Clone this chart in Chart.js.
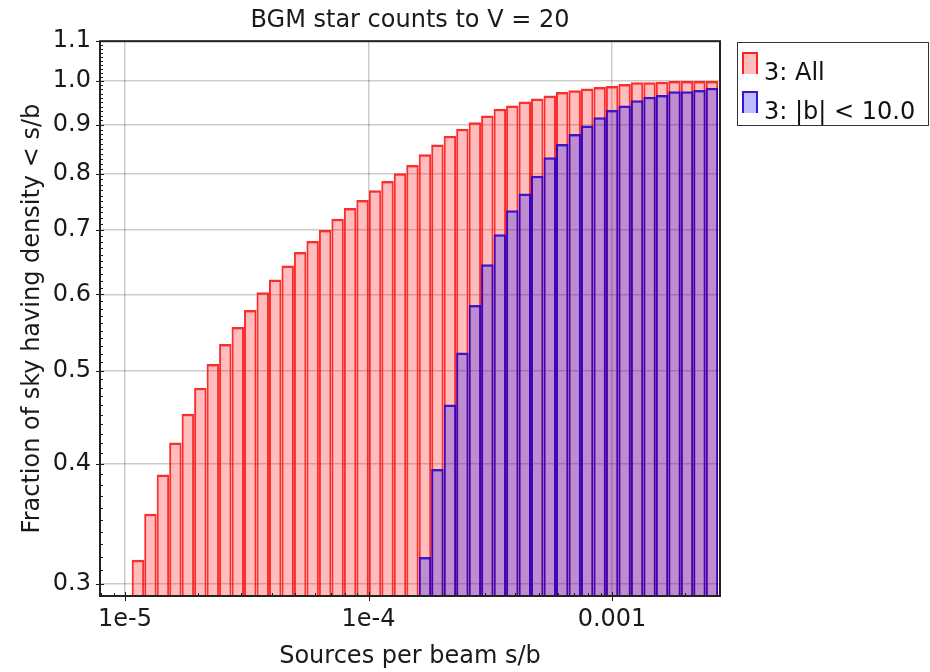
<!DOCTYPE html>
<html>
<head>
<meta charset="utf-8">
<title>BGM star counts to V = 20</title>
<script src="https://cdn.jsdelivr.net/npm/chart.js@4.4.1/dist/chart.umd.min.js"></script>
<style>
  html, body { margin: 0; padding: 0; background: #fff; }
  #wrap { width: 930px; height: 672px; }
</style>
</head>
<body>
<div id="wrap"><canvas id="hist_canvas" width="930" height="672"></canvas></div>
<script>
// histogram bins, equal width in log10(s/b)
var binLo = 1.065e-5;
var binHi = 2.73e-3;
var binCount = 47;

// cumulative fraction of sky below each bin: whole sky
var fracAll = [
    0.318, 0.355, 0.390, 0.421, 0.451, 0.480, 0.508, 0.533, 0.555, 0.578,
    0.603, 0.622, 0.643, 0.664, 0.682, 0.700, 0.719, 0.738, 0.752, 0.770,
    0.787, 0.802, 0.818, 0.839, 0.859, 0.877, 0.892, 0.906, 0.921, 0.936,
    0.943, 0.952, 0.959, 0.966, 0.974, 0.978, 0.982, 0.986, 0.988, 0.993,
    0.997, 0.997, 0.998, 1.000, 1.000, 1.000, 1.000
];

// same, only |b| < 10 deg (lower bins fall below the axis)
var fracLowLat = [
    null, null, null, null, null, null, null, null, null, null,
    null, null, null, null, null, null, null, null, null, null,
    null, null, null, 0.320, 0.395, 0.461, 0.522, 0.585, 0.645, 0.693,
    0.734, 0.764, 0.797, 0.833, 0.860, 0.881, 0.899, 0.917, 0.933, 0.943,
    0.955, 0.963, 0.967, 0.976, 0.976, 0.979, 0.984
];

var seriesNames = ["3: All", "3: |b| < 10.0"];

var xTickVals = [1e-5, 1e-4, 1e-3];
var xTickLabels = ["1e-5", "1e-4", "0.001"];
var yTickVals = [0.3, 0.4, 0.5, 0.6, 0.7, 0.8, 0.9, 1.0, 1.1];
var yTickLabels = ["0.3", "0.4", "0.5", "0.6", "0.7", "0.8", "0.9", "1.0", "1.1"];

var xMin = 7.89e-6, xMax = 2.777e-3;
var yMin = 0.2915, yMax = 1.1;

var FONT = "'DejaVu Sans', 'Noto Sans', sans-serif";
Chart.defaults.font.family = FONT;
Chart.defaults.color = "#1a1a1a";

// geometric bin centres
var binCenters = [];
var logLo = Math.log10(binLo);
var logStep = (Math.log10(binHi) - logLo) / binCount;
for (var i = 0; i < binCount; i++) {
    binCenters.push(Math.pow(10, logLo + (i + 0.5) * logStep));
}

function toPoints(vals) {
    return vals.map(function (v, i) { return { x: binCenters[i], y: v }; });
}

// small inward ticks on the axes (kept out of scale.ticks so bar widths are untouched)
var yMinorTicks = [];
for (var k = 30; k <= 110; k++) yMinorTicks.push(k / 100);
var xMinorTicks = [];
for (var d = -6; d <= -3; d++) {
    for (var m = 2; m <= 9; m++) xMinorTicks.push(m * Math.pow(10, d));
}

var frameAndLegend = {
    id: "frameAndLegend",
    afterDraw: function (chart) {
        var ctx = chart.ctx, a = chart.chartArea;
        var xs = chart.scales.x, ys = chart.scales.y;
        ctx.save();

        ctx.strokeStyle = "#1a1a1a";
        ctx.lineWidth = 1;
        ctx.beginPath();
        yMinorTicks.forEach(function (v) {
            if (v < yMin || v > yMax) return;
            var py = Math.round(ys.getPixelForValue(v)) + 0.5;
            var major = yTickVals.some(function (t) { return Math.abs(t - v) < 1e-9; });
            ctx.moveTo(a.left - (major ? 4 : 0), py);
            ctx.lineTo(a.left + (major ? 4 : 3), py);
        });
        xMinorTicks.concat(xTickVals).forEach(function (v) {
            if (v < xMin || v > xMax) return;
            var px = Math.round(xs.getPixelForValue(v)) + 0.5;
            var major = xTickVals.indexOf(v) >= 0;
            ctx.moveTo(px, a.bottom + (major ? 5 : 0));
            ctx.lineTo(px, a.bottom - (major ? 4 : 3));
        });
        ctx.stroke();

        ctx.lineWidth = 2;
        ctx.strokeStyle = "#222";
        ctx.strokeRect(a.left, a.top, a.right - a.left, a.bottom - a.top);

        // legend box
        ctx.lineWidth = 1;
        ctx.strokeStyle = "#333";
        ctx.strokeRect(737.5, 42.5, 191, 83);
        var ds = chart.data.datasets;
        var rows = [52, 91];
        ctx.font = "24px " + FONT;
        ctx.textBaseline = "alphabetic";
        rows.forEach(function (y, n) {
            ctx.fillStyle = ds[n].backgroundColor;
            ctx.fillRect(742, y, 16, 22);
            ctx.strokeStyle = ds[n].borderColor;
            ctx.lineWidth = 2;
            ctx.beginPath();
            ctx.moveTo(743, y + 22);
            ctx.lineTo(743, y + 1);
            ctx.lineTo(757, y + 1);
            ctx.lineTo(757, y + 22);
            ctx.stroke();
            ctx.fillStyle = "#111";
            ctx.fillText(seriesNames[n], 764, y + 28);
        });
        ctx.restore();
    }
};

new Chart(document.getElementById("hist_canvas").getContext("2d"), {
    type: "bar",
    data: {
        datasets: [
            {
                label: seriesNames[0],
                data: toPoints(fracAll),
                backgroundColor: "rgba(255,0,0,0.26)",
                borderColor: "rgba(250,0,0,0.82)",
                borderWidth: { top: 2.5, left: 2, right: 2, bottom: 0 },
                order: 2
            }, {
                label: seriesNames[1],
                data: toPoints(fracLowLat),
                backgroundColor: "rgba(0,0,255,0.26)",
                borderColor: "rgba(35,0,205,0.88)",
                borderWidth: { top: 2.5, left: 2, right: 2, bottom: 0 },
                order: 1
            }
        ]
    },
    options: {
        responsive: false,
        animation: false,
        layout: { padding: { left: 0, right: 210, top: 0, bottom: 0 } },
        datasets: {
            bar: { grouped: false, barPercentage: 1, categoryPercentage: 1, borderSkipped: false, inflateAmount: 0 }
        },
        plugins: {
            legend: { display: false },
            tooltip: { enabled: false },
            title: {
                display: true,
                text: "BGM star counts to V = 20",
                fullSize: false,
                color: "#1a1a1a",
                font: { size: 24, weight: "normal", lineHeight: 1.2 },
                padding: { top: 6, bottom: 6.4 }
            }
        },
        scales: {
            x: {
                type: "logarithmic",
                min: xMin,
                max: xMax,
                offset: false,
                z: 1,
                grid: { offset: false, color: "rgba(0,0,0,0.2)", lineWidth: 1.5, drawTicks: false },
                border: { display: false },
                afterBuildTicks: function (scale) {
                    scale.ticks = xTickVals.map(function (v) { return { value: v }; });
                },
                afterFit: function (scale) { scale.height = 76; },
                ticks: {
                    autoSkip: false,
                    maxRotation: 0,
                    padding: 9,
                    font: { size: 24 },
                    callback: function (v, idx) { return xTickLabels[idx]; }
                },
                title: {
                    display: true,
                    text: "Sources per beam s/b",
                    font: { size: 24 },
                    padding: { top: 0, bottom: 1 }
                }
            },
            y: {
                type: "logarithmic",
                min: yMin,
                max: yMax,
                z: 1,
                grid: { color: "rgba(0,0,0,0.2)", lineWidth: 1.5, drawTicks: false },
                border: { display: false },
                afterBuildTicks: function (scale) {
                    scale.ticks = yTickVals.map(function (v) { return { value: v }; });
                },
                afterFit: function (scale) { scale.width = 100; },
                ticks: {
                    autoSkip: false,
                    padding: 9,
                    font: { size: 24 },
                    callback: function (v, idx) { return yTickLabels[idx]; }
                },
                title: {
                    display: true,
                    text: "Fraction of sky having density < s/b",
                    font: { size: 24 },
                    padding: { top: 18, bottom: 0 }
                }
            }
        }
    },
    plugins: [frameAndLegend]
});
</script>
</body>
</html>
